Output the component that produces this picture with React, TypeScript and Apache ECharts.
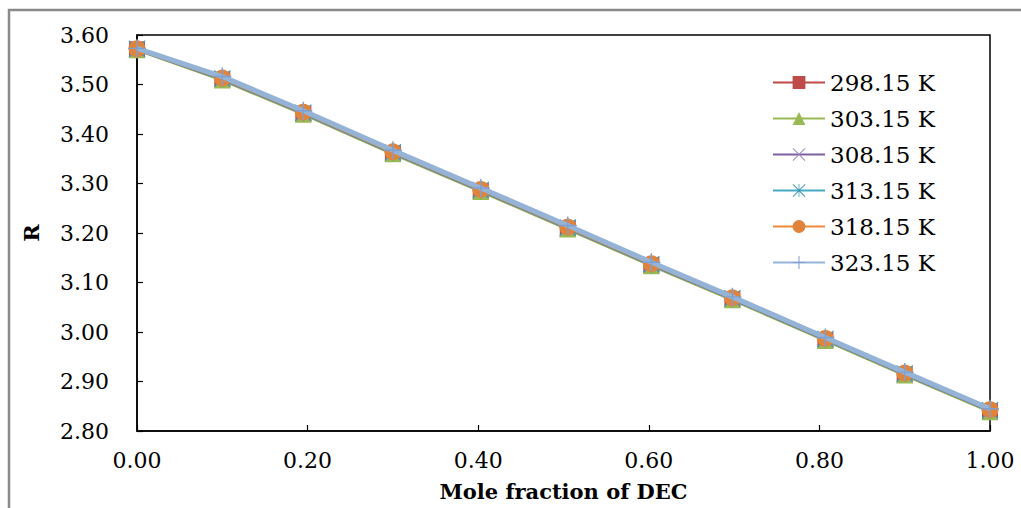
import React, { useEffect, useRef } from "react";
import * as echarts from "echarts";

const xValues = [0.0, 0.1, 0.195, 0.3, 0.403, 0.505, 0.603, 0.698, 0.807, 0.9, 1.0];
const seriesNames = ["298.15 K", "303.15 K", "308.15 K", "313.15 K", "318.15 K", "323.15 K"];
const r298 = [3.571, 3.510, 3.441, 3.361, 3.285, 3.209, 3.135, 3.066, 2.984, 2.914, 2.840];
const r303 = [3.570, 3.509, 3.440, 3.360, 3.284, 3.208, 3.134, 3.065, 2.983, 2.913, 2.839];
const r308 = [3.571, 3.511, 3.442, 3.362, 3.286, 3.210, 3.136, 3.067, 2.985, 2.915, 2.841];
const r313 = [3.572, 3.512, 3.443, 3.363, 3.287, 3.211, 3.137, 3.068, 2.986, 2.916, 2.842];
const r318 = [3.572, 3.513, 3.444, 3.364, 3.288, 3.212, 3.138, 3.069, 2.987, 2.917, 2.843];
const r323 = [3.573, 3.516, 3.447, 3.367, 3.291, 3.215, 3.141, 3.071, 2.989, 2.919, 2.845];
const allSeries = [r298, r303, r308, r313, r318, r323];

const colors = ["#BE4B48", "#98B954", "#7D60A0", "#46AAC5", "#F08A3A", "#95B3D7"];
const markerColors = ["#BE4B48", "#98B954", "#9D87BC", "#4198AF", "#E0843C", "#7F9FD0"];

const XSYM = "path://M-10,-9L-9,-10L0,-1L9,-10L10,-9L1,0L10,9L9,10L0,1L-9,10L-10,9L-1,0Z";
const STARSYM =
  "path://M-10,-9L-9,-10L0,-1L9,-10L10,-9L1,0L10,9L9,10L0,1L-9,10L-10,9L-1,0Z M-0.6,-10L0.6,-10L0.6,10L-0.6,10Z";
const PLUSSYM = "path://M-0.8,-10L0.8,-10L0.8,-0.8L10,-0.8L10,0.8L0.8,0.8L0.8,10L-0.8,10L-0.8,0.8L-10,0.8L-10,-0.8L-0.8,-0.8Z";
const symbols = ["rect", "triangle", XSYM, STARSYM, "circle", PLUSSYM];
const symbolSizes = [16, 17, 16, 17, 17, 18];
const lineWidths = [3, 3, 3, 3, 3, 5];

const FONT = "DejaVu Serif";

export default function App() {
  const ref = useRef<HTMLDivElement>(null);
  useEffect(() => {
    if (!ref.current) return;
    const chart = echarts.init(ref.current, undefined, { renderer: "svg" });
    chart.setOption({
      animation: false,
      backgroundColor: "#ffffff",
      graphic: [
        {
          type: "rect",
          shape: { x: 9, y: 10, width: 1100, height: 600 },
          style: { fill: "none", stroke: "#8a8a8a", lineWidth: 2.5 },
          silent: true,
        },
      ],
      grid: {
        left: 137,
        top: 35,
        right: 31,
        bottom: 77,
        show: true,
        borderColor: "#000",
        borderWidth: 1.5,
        backgroundColor: "transparent",
      },
      legend: {
        orient: "vertical",
        left: 767,
        top: 66,
        itemWidth: 52,
        itemHeight: 16,
        itemGap: 13,
        textStyle: { fontFamily: FONT, fontSize: 23, color: "#000" },
        data: seriesNames,
      },
      xAxis: {
        type: "value",
        min: 0,
        max: 1,
        interval: 0.2,
        name: "Mole fraction of DEC",
        nameLocation: "middle",
        nameGap: 50,
        nameTextStyle: { fontFamily: FONT, fontSize: 21, fontWeight: "bold", color: "#000" },
        axisLine: { lineStyle: { color: "#000", width: 1.5 } },
        axisTick: { inside: true, length: 6, lineStyle: { color: "#000", width: 1.2 } },
        axisLabel: {
          margin: 18,
          fontFamily: FONT,
          fontSize: 22,
          color: "#000",
          formatter: (v: number) => v.toFixed(2),
        },
        splitLine: { show: false },
      },
      yAxis: {
        type: "value",
        min: 2.8,
        max: 3.6,
        interval: 0.1,
        name: "R",
        nameLocation: "middle",
        nameGap: 95,
        nameTextStyle: { fontFamily: FONT, fontSize: 21, fontWeight: "bold", color: "#000" },
        axisLine: { show: true, lineStyle: { color: "#000", width: 1.5 } },
        axisTick: { show: true, inside: true, length: 6, lineStyle: { color: "#000", width: 1.2 } },
        axisLabel: {
          margin: 28,
          fontFamily: FONT,
          fontSize: 22,
          color: "#000",
          formatter: (v: number) => v.toFixed(2),
        },
        splitLine: { show: false },
      },
      series: allSeries.map((vals, i) => ({
        name: seriesNames[i],
        type: "line",
        data: vals.map((y, j) => [xValues[j], y]),
        symbol: symbols[i],
        symbolSize: symbolSizes[i],
        showAllSymbol: true,
        lineStyle: { color: colors[i], width: lineWidths[i] },
        itemStyle: { color: markerColors[i], borderColor: markerColors[i], borderWidth: 0 },
        z: 2 + i,
      })),
    });
    return () => chart.dispose();
  }, []);
  return (
    <div
      ref={ref}
      style={{ position: "fixed", left: 0, top: 0, width: 1021, height: 508, background: "#fff" }}
    />
  );
}
